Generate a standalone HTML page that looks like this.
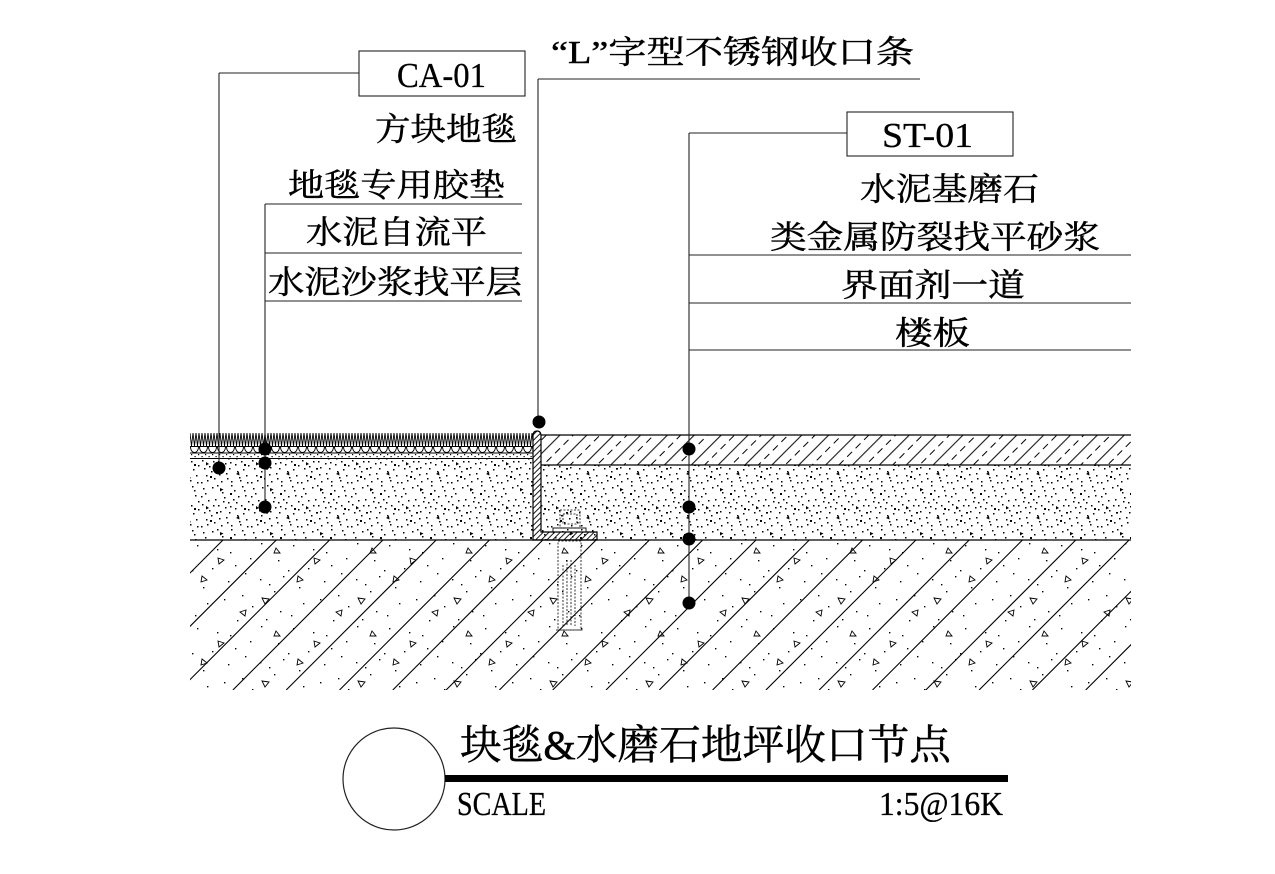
<!DOCTYPE html>
<html><head><meta charset="utf-8"><style>
html,body{margin:0;padding:0;background:#fff;}
svg{display:block;}
.cj{font-family:"Liberation Serif","Noto Serif CJK SC",serif;fill:#000;stroke:#000;stroke-width:0.45;}
.lt{font-family:"Liberation Serif","Noto Serif CJK SC",serif;fill:#000;stroke:#000;stroke-width:0.3;}
</style></head><body>
<svg width="1275" height="874" viewBox="0 0 1275 874" xmlns="http://www.w3.org/2000/svg">
<defs>
  <pattern id="st" width="50" height="44" patternUnits="userSpaceOnUse">
    <path fill="#000" d="M12,3h1.5v1.5h-1.5z M31,1h1.5v1.5h-1.5z M44,6h1.5v1.5h-1.5z M5,9h1.5v1.5h-1.5z M22,8h1.5v1.5h-1.5z M38,12h1.5v1.5h-1.5z M15,15h1.5v1.5h-1.5z M48,17h1.5v1.5h-1.5z M28,18h1.5v1.5h-1.5z M2,20h1.5v1.5h-1.5z M9,26h1.5v1.5h-1.5z M35,24h1.5v1.5h-1.5z M20,27h1.5v1.5h-1.5z M43,29h1.5v1.5h-1.5z M26,33h1.5v1.5h-1.5z M6,35h1.5v1.5h-1.5z M14,38h1.5v1.5h-1.5z M39,37h1.5v1.5h-1.5z M31,41h1.5v1.5h-1.5z M47,42h1.5v1.5h-1.5z M1,42h1.5v1.5h-1.5z M18,21h1.5v1.5h-1.5z M24,13h1.5v1.5h-1.5z M34,6h1.5v1.5h-1.5z M8,16h1.5v1.5h-1.5z M41,21h1.5v1.5h-1.5z M29,28h1.5v1.5h-1.5z M11,31h1.5v1.5h-1.5z M46,35h1.5v1.5h-1.5z M21,41h1.5v1.5h-1.5z M3,4h1.5v1.5h-1.5z M17,1h1.5v1.5h-1.5z M37,31h1.5v1.5h-1.5z M27,38h1.5v1.5h-1.5z M13,21h1.5v1.5h-1.5z M33,15h1.5v1.5h-1.5z M45,11h1.5v1.5h-1.5z M7,40h1.5v1.5h-1.5z M25,23h1.5v1.5h-1.5z M48,25h1.5v1.5h-1.5z M19,34h1.5v1.5h-1.5z M42,2h1.5v1.5h-1.5z M30,22h1.5v1.5h-1.5z M4,28h1.5v1.5h-1.5z M36,18h1.5v1.5h-1.5z M30,9h2v2h-2z M10,36h2v2h-2z M44,24h2v2h-2z M16,28h2v1.6h-2z M23,17h1.5v1.5h-1.5z M40,40h1.5v1.5h-1.5z M1,12h1.5v1.5h-1.5z"/>
    <path fill="#000" d="M20,4l3.5,1.5l-3.5,2z M36,34l3,-2l0.5,3.5z M6,22l3,2l-3,1.5z"/>
  </pattern>
  <pattern id="sl" width="96" height="83" patternUnits="userSpaceOnUse" x="190" y="540">
    <path fill="#000" d="M7,5h1.4v1.4h-1.4z M40,12h1.4v1.4h-1.4z M71,3h1.4v1.4h-1.4z M88,20h1.4v1.4h-1.4z M22,28h1.4v1.4h-1.4z M55,33h1.4v1.4h-1.4z M13,47h1.4v1.4h-1.4z M79,44h1.4v1.4h-1.4z M34,59h1.4v1.4h-1.4z M62,66h1.4v1.4h-1.4z M90,71h1.4v1.4h-1.4z M5,75h1.4v1.4h-1.4z M47,80h1.4v1.4h-1.4z M27,9h1.4v1.4h-1.4z M60,18h1.4v1.4h-1.4z M84,51h1.4v1.4h-1.4z M17,63h1.4v1.4h-1.4z M70,39h1.4v1.4h-1.4z M38,41h1.4v1.4h-1.4z M52,55h1.4v1.4h-1.4z M2,30h1.4v1.4h-1.4z M93,36h1.4v1.4h-1.4z M45,25h1.4v1.4h-1.4z M76,79h1.4v1.4h-1.4z"/>
    <path fill="none" stroke="#000" stroke-width="0.9" d="M28,18l6,2l-5,4z M72,58l7,1l-4,5z M12,36l5,4l-6,2z M50,72l6,-2l-1,6z M86,8l4,5l-6,0z"/>
  </pattern>
  <pattern id="tz" width="36" height="19" patternUnits="userSpaceOnUse" patternTransform="rotate(-45)">
    <line x1="0" y1="0.6" x2="36" y2="0.6" stroke="#000" stroke-width="1"/>
    <line x1="0" y1="10" x2="36" y2="10" stroke="#000" stroke-width="1" stroke-dasharray="7,5"/>
  </pattern>
  <pattern id="lh" width="4" height="4" patternUnits="userSpaceOnUse" patternTransform="rotate(-45)">
    <line x1="0" y1="0.5" x2="4" y2="0.5" stroke="#000" stroke-width="0.9"/>
  </pattern>
  <pattern id="tuft" width="9" height="13" patternUnits="userSpaceOnUse" x="190" y="433">
    <polyline points="0,0 1.5,13 3,0 4.5,13 6,0 7.5,13 9,0" fill="none" stroke="#000" stroke-width="0.9"/>
  </pattern>
  <pattern id="loop" width="9" height="7" patternUnits="userSpaceOnUse" x="190" y="446.5">
    <path d="M0.5,0 C0.5,8 8.5,8 8.5,0" fill="none" stroke="#000" stroke-width="0.9"/>
  </pattern>
  <pattern id="gdot" width="7" height="5" patternUnits="userSpaceOnUse" x="190" y="453">
    <rect x="1" y="1" width="1.2" height="1.2" fill="#000"/>
    <rect x="4.5" y="3" width="1.2" height="1.2" fill="#000"/>
  </pattern>
  <clipPath id="slabclip"><rect x="190" y="540" width="941" height="150"/></clipPath>
</defs>

<rect width="1275" height="874" fill="#fff"/>

<!-- Slab -->
<rect x="190" y="541" width="941" height="149" fill="url(#sl)"/>
<g clip-path="url(#slabclip)" stroke="#000" stroke-width="1.1">
  <line x1="223" y1="540" x2="73" y2="690"/>
  <line x1="276.3" y1="540" x2="126.3" y2="690"/>
  <line x1="329.6" y1="540" x2="179.6" y2="690"/>
  <line x1="382.9" y1="540" x2="232.9" y2="690"/>
  <line x1="436.2" y1="540" x2="286.2" y2="690"/>
  <line x1="489.5" y1="540" x2="339.5" y2="690"/>
  <line x1="542.8" y1="540" x2="392.8" y2="690"/>
  <line x1="596.1" y1="540" x2="446.1" y2="690"/>
  <line x1="649.4" y1="540" x2="499.4" y2="690"/>
  <line x1="702.7" y1="540" x2="552.7" y2="690"/>
  <line x1="756" y1="540" x2="606" y2="690"/>
  <line x1="809.3" y1="540" x2="659.3" y2="690"/>
  <line x1="862.6" y1="540" x2="712.6" y2="690"/>
  <line x1="915.9" y1="540" x2="765.9" y2="690"/>
  <line x1="969.2" y1="540" x2="819.2" y2="690"/>
  <line x1="1022.5" y1="540" x2="872.5" y2="690"/>
  <line x1="1075.8" y1="540" x2="925.8" y2="690"/>
  <line x1="1129.1" y1="540" x2="979.1" y2="690"/>
  <line x1="1182.4" y1="540" x2="1032.4" y2="690"/>
  <line x1="1235.7" y1="540" x2="1085.7" y2="690"/>
</g>

<!-- Screed left & right -->
<rect x="190" y="458.5" width="343" height="81.5" fill="url(#st)"/>
<rect x="541" y="465" width="590" height="75" fill="url(#st)"/>

<!-- Terrazzo -->
<rect x="541" y="435" width="590" height="30" fill="url(#tz)"/>
<g stroke="#000" stroke-width="1.3">
  <line x1="541" y1="435" x2="1131" y2="435"/>
  <line x1="541" y1="465" x2="1131" y2="465"/>
  <line x1="190" y1="540" x2="1131" y2="540"/>
</g>

<!-- Carpet -->
<rect x="190" y="433" width="343" height="13" fill="url(#tuft)"/>
<rect x="190" y="446.5" width="343" height="6.5" fill="url(#loop)"/>
<rect x="190" y="453" width="343" height="5" fill="url(#gdot)"/>
<g stroke="#000" stroke-width="1.1">
  <line x1="190" y1="446.5" x2="533" y2="446.5"/>
  <line x1="190" y1="453" x2="533" y2="453"/>
  <line x1="190" y1="458.5" x2="533" y2="458.5"/>
</g>

<!-- L strip -->
<path d="M533,540 L533,436 Q533,431 537,431 Q541,431 541,436 L541,532 L597,532 L597,540 Z" fill="url(#lh)" stroke="#000" stroke-width="1.2"/>

<!-- Bolt -->
<g fill="none" stroke="#000" stroke-width="0.8" stroke-dasharray="2,1.5">
  <rect x="560" y="510" width="20" height="18"/>
  <rect x="563" y="514" width="14" height="10"/>
  <rect x="558" y="541" width="23" height="89"/>
  <line x1="563" y1="565" x2="563" y2="626"/>
  <line x1="567" y1="560" x2="567" y2="626"/>
  <line x1="571" y1="560" x2="571" y2="626"/>
  <line x1="575" y1="565" x2="575" y2="626"/>
  <line x1="556" y1="630" x2="583" y2="630"/>
</g>
<rect x="553" y="528" width="33" height="4" fill="none" stroke="#000" stroke-width="0.9"/>

<!-- Leaders -->
<g stroke="#222" stroke-width="1.1" fill="none">
  <path d="M219,73 H359 M219,73 V468"/>
  <rect x="359" y="51" width="166" height="45"/>
  <path d="M265,204 H522 M265,253 H522 M265,301 H522 M265,204 V507"/>
  <path d="M538,79 H920 M538,79 V422"/>
  <path d="M689,133 H847 M689,133 V603"/>
  <rect x="847" y="112" width="166" height="44"/>
  <path d="M689,255 H1131 M689,303 H1131 M689,350 H1131"/>
</g>
<g fill="#000">
  <circle cx="219" cy="468" r="6.5"/>
  <circle cx="265" cy="449" r="6.5"/>
  <circle cx="265" cy="463" r="6.5"/>
  <circle cx="265" cy="507" r="6.5"/>
  <circle cx="539" cy="422" r="6.5"/>
  <circle cx="689" cy="449" r="6.5"/>
  <circle cx="689" cy="507" r="6.5"/>
  <circle cx="689" cy="539" r="6.5"/>
  <circle cx="689" cy="603" r="6.5"/>
</g>

<!-- Labels -->
<text class="lt" x="397" y="87" font-size="35" textLength="89" lengthAdjust="spacingAndGlyphs">CA-01</text>
<text class="cj" x="375" y="140" font-size="32" textLength="142" lengthAdjust="spacingAndGlyphs">方块地毯</text>
<text class="cj" x="288" y="196" font-size="32" textLength="217" lengthAdjust="spacingAndGlyphs">地毯专用胶垫</text>
<text class="cj" x="306" y="243" font-size="32" textLength="181" lengthAdjust="spacingAndGlyphs">水泥自流平</text>
<text class="cj" x="268" y="293" font-size="32" textLength="254" lengthAdjust="spacingAndGlyphs">水泥沙浆找平层</text>
<text class="cj" x="551" y="63" font-size="32" textLength="363" lengthAdjust="spacingAndGlyphs">“L”字型不锈钢收口条</text>
<text class="lt" x="882" y="147" font-size="35" textLength="91" lengthAdjust="spacingAndGlyphs">ST-01</text>
<text class="cj" x="860" y="200" font-size="32" textLength="179" lengthAdjust="spacingAndGlyphs">水泥基磨石</text>
<text class="cj" x="770" y="248" font-size="32" textLength="330" lengthAdjust="spacingAndGlyphs">类金属防裂找平砂浆</text>
<text class="cj" x="841" y="296" font-size="32" textLength="184" lengthAdjust="spacingAndGlyphs">界面剂一道</text>
<text class="cj" x="895" y="344" font-size="32" textLength="75" lengthAdjust="spacingAndGlyphs">楼板</text>

<!-- Title block -->
<circle cx="394" cy="779" r="51" fill="none" stroke="#222" stroke-width="1.2"/>
<text class="cj" x="460" y="759" font-size="41" textLength="491" lengthAdjust="spacingAndGlyphs">块毯&amp;水磨石地坪收口节点</text>
<rect x="445" y="775" width="563" height="7" fill="#000"/>
<text class="lt" x="457" y="815" font-size="34" textLength="89" lengthAdjust="spacingAndGlyphs">SCALE</text>
<text class="lt" x="879" y="815" font-size="34" textLength="124" lengthAdjust="spacingAndGlyphs">1:5@16K</text>
</svg>
</body></html>
